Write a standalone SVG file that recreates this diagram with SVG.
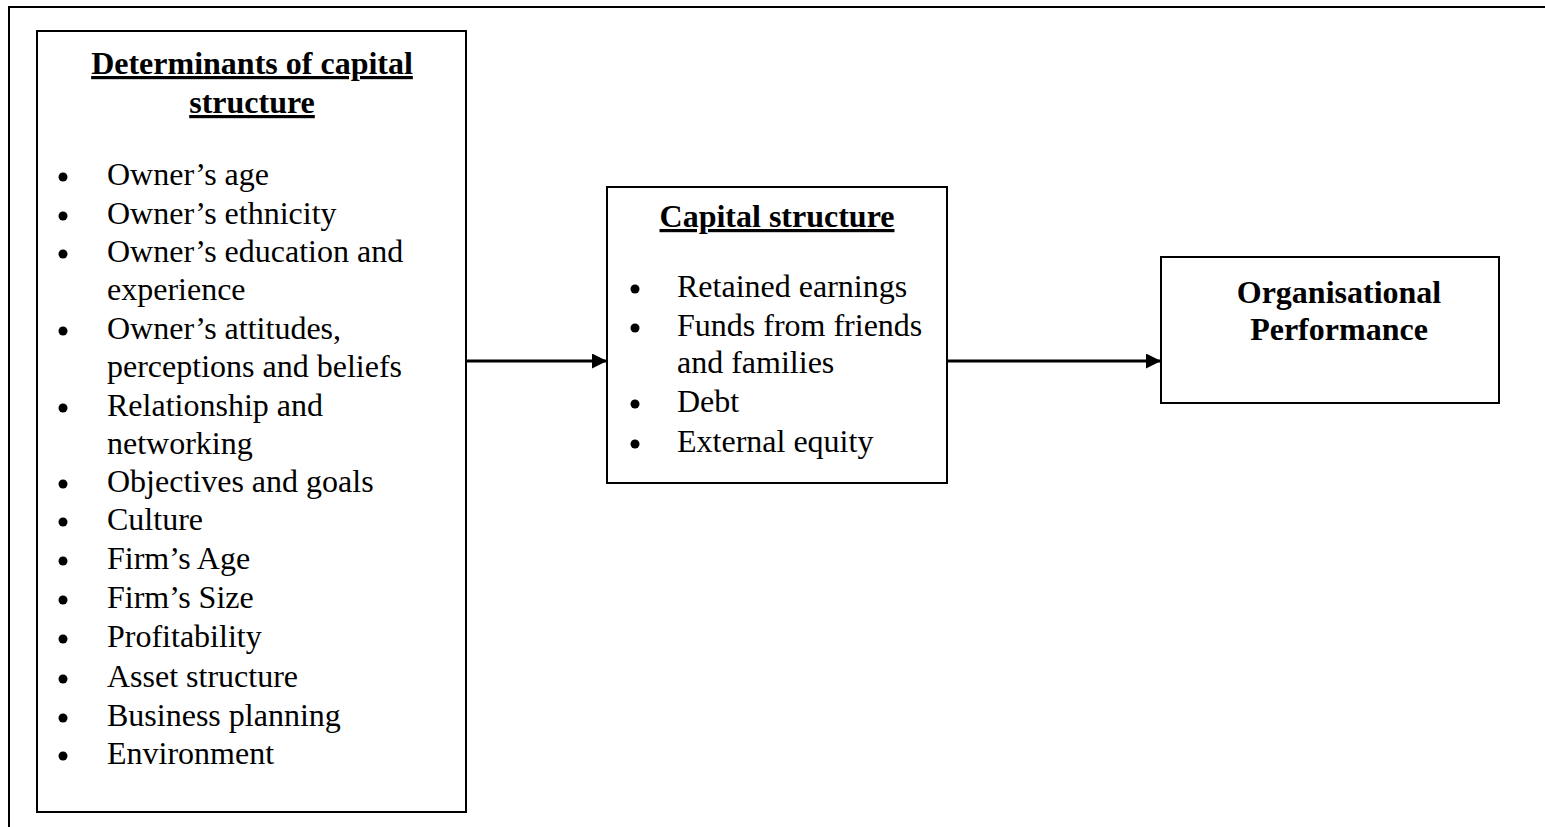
<svg xmlns="http://www.w3.org/2000/svg" width="1545" height="827" viewBox="0 0 1545 827">
  <style>
    .box { fill: #fff; stroke: #000; stroke-width: 2; }
    .frame { fill: none; stroke: #000; stroke-width: 2; }
    .t { font-family: "Liberation Serif", "Times New Roman", serif; font-size: 32px; fill: #000; }
    .h { font-family: "Liberation Serif", "Times New Roman", serif; font-size: 32px; font-weight: bold; fill: #000; text-anchor: middle; }
    .u { text-decoration: underline; }
    .dot { fill: #000; }
    .conn { stroke: #000; stroke-width: 3; fill: none; }
  </style>
  <defs>
    <marker id="arrow" viewBox="0 0 10 10" refX="10" refY="5" markerWidth="5" markerHeight="5" markerUnits="strokeWidth" orient="auto">
      <path d="M0,0 L10,5 L0,10 Z" fill="#000"/>
    </marker>
  </defs>
  <rect width="1545" height="827" fill="#fff"/>
  <!-- page frame -->
  <path class="frame" d="M9,827 L9,7 L1545,7"/>

  <g id="determinants">
    <rect class="box" x="37" y="31" width="429" height="781"/>
    <text class="h u" x="252" y="74">Determinants of capital</text>
    <text class="h u" x="252" y="113">structure</text>
    <g class="dot">
      <circle cx="63" cy="177" r="4.5"/>
      <circle cx="63" cy="216" r="4.5"/>
      <circle cx="63" cy="254" r="4.5"/>
      <circle cx="63" cy="331" r="4.5"/>
      <circle cx="63" cy="408" r="4.5"/>
      <circle cx="63" cy="484" r="4.5"/>
      <circle cx="63" cy="522" r="4.5"/>
      <circle cx="63" cy="561" r="4.5"/>
      <circle cx="63" cy="600" r="4.5"/>
      <circle cx="63" cy="639" r="4.5"/>
      <circle cx="63" cy="679" r="4.5"/>
      <circle cx="63" cy="718" r="4.5"/>
      <circle cx="63" cy="756" r="4.5"/>
    </g>
    <text class="t" x="107" y="185">Owner’s age</text>
    <text class="t" x="107" y="224">Owner’s ethnicity</text>
    <text class="t" x="107" y="262">Owner’s education and</text>
    <text class="t" x="107" y="300">experience</text>
    <text class="t" x="107" y="339">Owner’s attitudes,</text>
    <text class="t" x="107" y="377">perceptions and beliefs</text>
    <text class="t" x="107" y="416">Relationship and</text>
    <text class="t" x="107" y="454">networking</text>
    <text class="t" x="107" y="492">Objectives and goals</text>
    <text class="t" x="107" y="530">Culture</text>
    <text class="t" x="107" y="569">Firm’s Age</text>
    <text class="t" x="107" y="608">Firm’s Size</text>
    <text class="t" x="107" y="647">Profitability</text>
    <text class="t" x="107" y="687">Asset structure</text>
    <text class="t" x="107" y="726">Business planning</text>
    <text class="t" x="107" y="764">Environment</text>
  </g>

  <g id="capital-structure">
    <rect class="box" x="607" y="187" width="340" height="296"/>
    <text class="h u" x="777" y="227">Capital structure</text>
    <g class="dot">
      <circle cx="635" cy="289" r="4.5"/>
      <circle cx="635" cy="328" r="4.5"/>
      <circle cx="635" cy="404" r="4.5"/>
      <circle cx="635" cy="444" r="4.5"/>
    </g>
    <text class="t" x="677" y="297">Retained earnings</text>
    <text class="t" x="677" y="336">Funds from friends</text>
    <text class="t" x="677" y="373">and families</text>
    <text class="t" x="677" y="412">Debt</text>
    <text class="t" x="677" y="452">External equity</text>
  </g>

  <g id="performance">
    <rect class="box" x="1161" y="257" width="338" height="146"/>
    <text class="h" x="1339" y="303">Organisational</text>
    <text class="h" x="1339" y="340">Performance</text>
  </g>

  <g id="connectors">
    <line class="conn" x1="466" y1="361" x2="607" y2="361" marker-end="url(#arrow)"/>
    <line class="conn" x1="947" y1="361" x2="1161" y2="361" marker-end="url(#arrow)"/>
  </g>
</svg>
